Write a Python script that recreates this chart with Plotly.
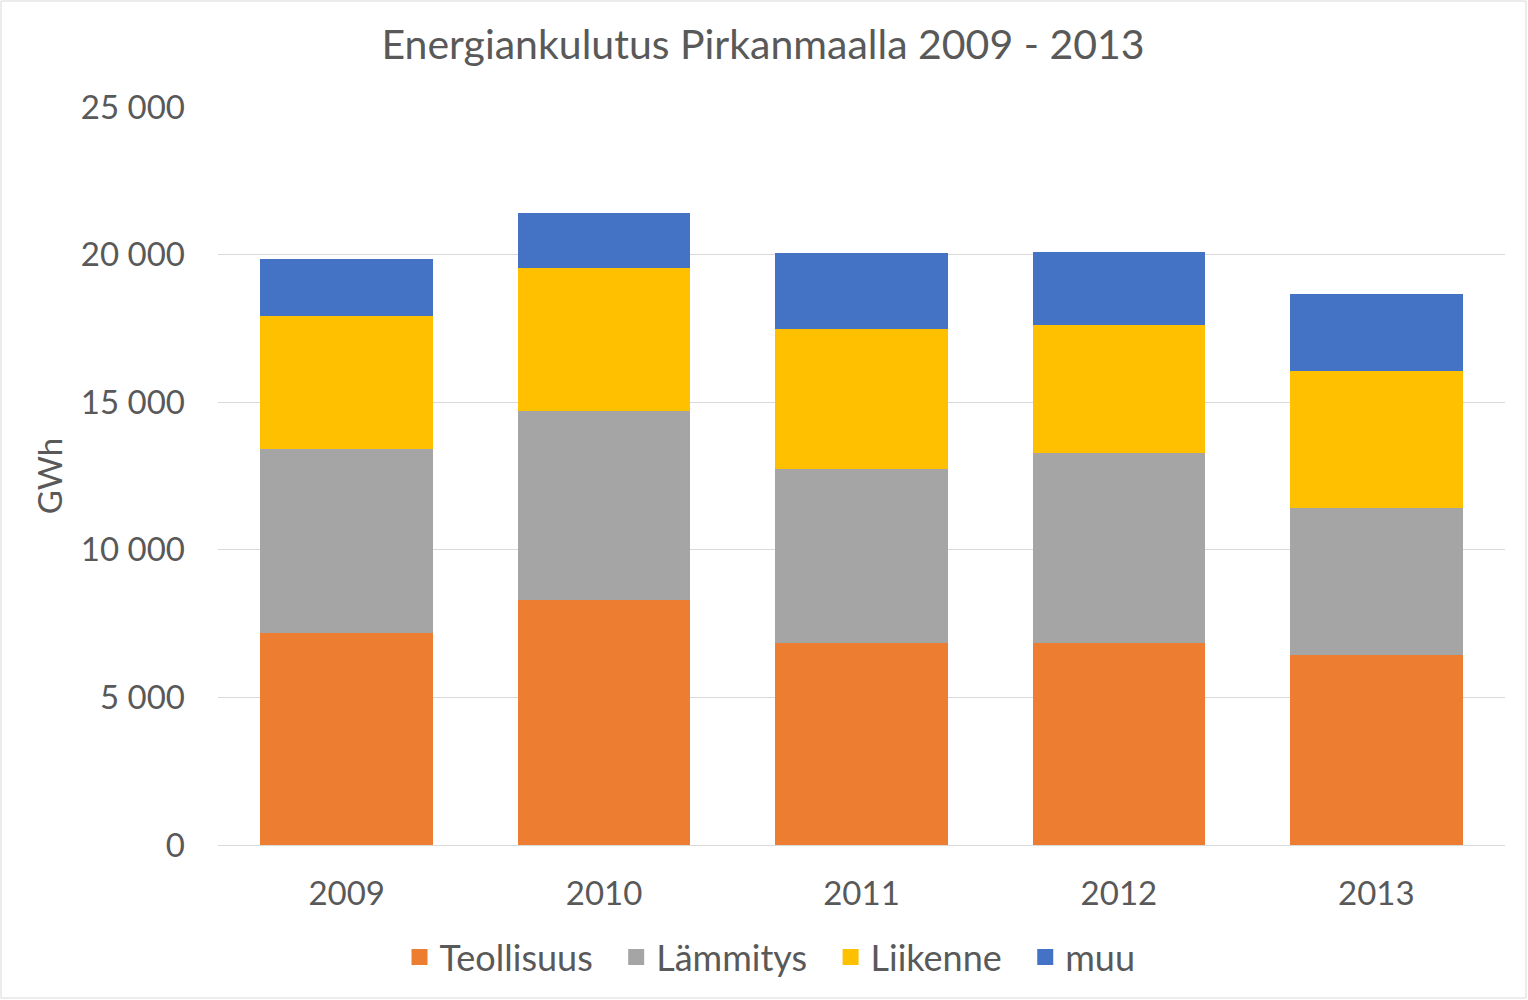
import plotly.graph_objects as go

years = ["2009", "2010", "2011", "2012", "2013"]
teollisuus = [7180, 8300, 6840, 6840, 6440]
lammitys = [6230, 6400, 5890, 6440, 4980]
liikenne = [4510, 4840, 4740, 4340, 4640]
muu = [1930, 1860, 2570, 2470, 2610]

series = [
    ("Teollisuus", teollisuus, "#ED7D31"),
    ("Lämmitys", lammitys, "#A5A5A5"),
    ("Liikenne", liikenne, "#FFC000"),
    ("muu", muu, "#4472C4"),
]

FONT = "Lato"
GRAY = "#595959"
PAD = "\u00a0\u00a0"

fig = go.Figure()
for name, vals, col in series:
    fig.add_trace(go.Bar(x=years, y=vals, name=name, showlegend=False,
                         marker=dict(color=col, line=dict(width=0))))
# legend proxies with larger square symbols
for i, (name, vals, col) in enumerate(series):
    label = name + (PAD if i < len(series) - 1 else "")
    fig.add_trace(go.Scatter(x=[None], y=[None], mode="markers", name=label,
                             marker=dict(symbol="square", size=16, color=col)))

W, H = 1528, 1000
L, R, T, B = 218, 23, 107, 155
pw, ph = W - L - R, H - T - B

fig.update_layout(
    barmode="stack",
    bargap=0.33,
    width=W, height=H,
    margin=dict(l=L, r=R, t=T, b=B),
    paper_bgcolor="white", plot_bgcolor="white",
    separators=", ",
    font=dict(family=FONT, color=GRAY, size=33),
    title=dict(text="Energiankulutus Pirkanmaalla 2009 - 2013", x=763 / W, xanchor="center",
               y=1 - 45 / H, yanchor="middle", font=dict(family=FONT, size=41, color=GRAY)),
    xaxis=dict(showgrid=False, ticks="", showline=False, tickfont=dict(size=33, color=GRAY),
               ticklabelstandoff=26),
    yaxis=dict(range=[0, 25000], dtick=5000, tickformat=",d", showgrid=True, gridcolor="#D9D9D9", gridwidth=1,
               zeroline=True, zerolinecolor="#D9D9D9", zerolinewidth=1, showline=False, ticks="",
               tickfont=dict(size=33, color=GRAY), ticklabelstandoff=32,
               title=dict(text="GWh", font=dict(size=33, color=GRAY), standoff=8)),
    legend=dict(orientation="h", x=(770 - L) / pw, xanchor="center", y=(845 - 957) / ph, yanchor="middle",
                font=dict(size=36, color=GRAY), traceorder="normal", itemwidth=30, itemsizing="trace"),
    shapes=[dict(type="rect", xref="paper", yref="paper",
                 x0=(1 - L) / pw, x1=(W - 2 - L) / pw, y0=(845 - (H - 2)) / ph, y1=(845 - 1) / ph,
                 line=dict(color="#D9D9D9", width=1), fillcolor="rgba(0,0,0,0)", layer="below")],
)

fig.write_html("out.html", config={"displayModeBar": False},
               post_script="document.body.style.margin='0';document.body.style.padding='0';")
